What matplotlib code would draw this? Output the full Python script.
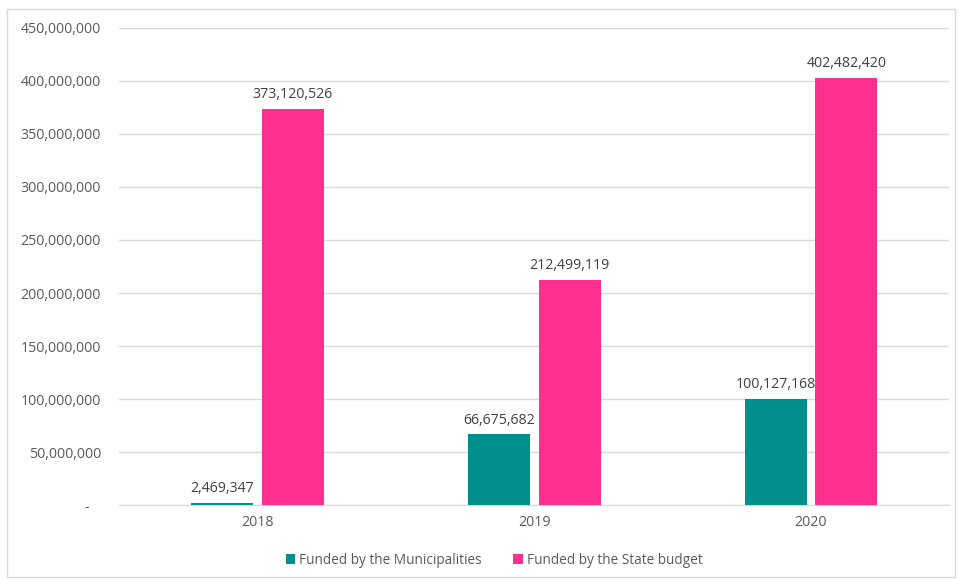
import matplotlib.pyplot as plt
import numpy as np
from matplotlib.patches import Rectangle
from matplotlib.ticker import FuncFormatter, MultipleLocator

years = ["2018", "2019", "2020"]
municipalities = [2469347, 66675682, 100127168]
state_budget = [373120526, 212499119, 402482420]

teal = "#008F8C"
pink = "#FF2F8E"
text_color = "#595959"
grid_color = "#D9D9D9"

plt.rcParams["font.family"] = ["Open Sans", "DejaVu Sans"]

fig = plt.figure(figsize=(9.59, 5.80), dpi=100)
ax = fig.add_axes([0.124, 0.129, 0.866, 0.823])

x = np.arange(len(years))
width = 0.224
gap = 0.032

bars_m = ax.bar(x - width / 2 - gap / 2, municipalities, width, color=teal,
                label="Funded by the Municipalities", zorder=3)
bars_s = ax.bar(x + width / 2 + gap / 2, state_budget, width, color=pink,
                label="Funded by the State budget", zorder=3)

for bars, values in ((bars_m, municipalities), (bars_s, state_budget)):
    for b, v in zip(bars, values):
        ax.annotate(f"{v:,}", (b.get_x() + b.get_width() / 2, v),
                    xytext=(0, 5), textcoords="offset points",
                    ha="center", va="bottom", fontsize=10.2, color="#404040", zorder=4)

ax.set_xlim(-0.5, 2.5)
ax.set_ylim(0, 450000000)
ax.yaxis.set_major_locator(MultipleLocator(50000000))
ax.yaxis.set_major_formatter(FuncFormatter(lambda v, p: "-   " if v == 0 else f"{int(v):,}"))
ax.set_xticks(x)
ax.set_xticklabels(years)

ax.grid(axis="y", color=grid_color, linewidth=1, zorder=0)
for side in ("top", "right", "left"):
    ax.spines[side].set_visible(False)
ax.spines["bottom"].set_color(grid_color)
ax.tick_params(axis="both", length=0, colors=text_color, labelsize=10.2)
ax.tick_params(axis="y", pad=13)
ax.tick_params(axis="x", pad=7)

fig.legend(handles=[bars_m, bars_s], loc="center", bbox_to_anchor=(494 / 959, 1 - 560 / 580),
           ncol=2, frameon=False, fontsize=9.8, labelcolor=text_color,
           handlelength=0.7, handleheight=0.7, handletextpad=0.3, columnspacing=2.3)

# light frame round the chart area
fig.patches.append(Rectangle((7 / 959, 3 / 580), 948 / 959, 568 / 580, transform=fig.transFigure,
                             fill=False, edgecolor="#D9D9D9", linewidth=1))

fig.savefig("out.png", dpi=100)
